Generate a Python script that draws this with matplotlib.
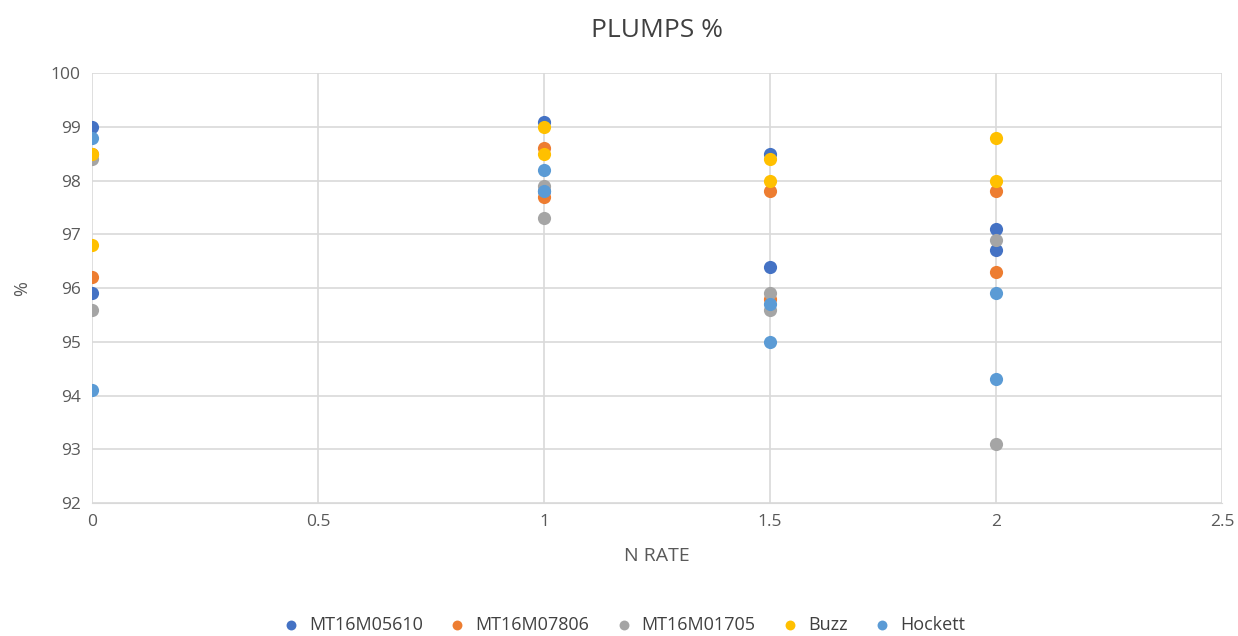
import matplotlib.pyplot as plt
import numpy as np

plt.rcParams['font.family'] = ['Open Sans', 'DejaVu Sans']

# N rate values and PLUMPS % per variety
n_rate = [0, 0, 1, 1, 1.5, 1.5, 2, 2]
mt05610 = [99.0, 95.9, 99.1, 97.8, 98.5, 96.4, 97.1, 96.7]
mt07806 = [98.5, 96.2, 98.6, 97.7, 97.8, 95.8, 97.8, 96.3]
mt01705 = [98.4, 95.6, 97.9, 97.3, 95.9, 95.6, 96.9, 93.1]
buzz = [98.5, 96.8, 99.0, 98.5, 98.4, 98.0, 98.8, 98.0]
hockett = [98.8, 94.1, 98.2, 97.8, 95.7, 95.0, 95.9, 94.3]

series = [
    ('MT16M05610', mt05610, '#4472C4'),
    ('MT16M07806', mt07806, '#ED7D31'),
    ('MT16M01705', mt01705, '#A5A5A5'),
    ('Buzz', buzz, '#FFC000'),
    ('Hockett', hockett, '#5B9BD5'),
]

fig = plt.figure(figsize=(12.38, 6.36), dpi=100)
ax = fig.add_axes([0.0743, 0.209, 0.9127, 0.676])

for name, vals, col in series:
    ax.scatter(n_rate, vals, s=90, color=col, label=name, zorder=3, linewidths=0)

ax.set_xlim(0, 2.5)
ax.set_ylim(92, 100)
ax.set_xticks(np.arange(0, 2.51, 0.5))
ax.set_xticklabels(['0', '0.5', '1', '1.5', '2', '2.5'])
ax.set_yticks(np.arange(92, 101, 1))
ax.grid(True, color='#D9D9D9', linewidth=1.2, zorder=0)
ax.set_axisbelow(True)
for s in ['top', 'right', 'left']:
    ax.spines[s].set_visible(False)
ax.spines['bottom'].set_color('#D9D9D9')
ax.tick_params(length=0, labelsize=12.5, colors='#595959', pad=8)

ax.set_title('PLUMPS %', fontsize=19, color='#404040', pad=26)
ax.set_xlabel('N RATE', fontsize=14, color='#595959', labelpad=12)
ax.set_ylabel('%', fontsize=13, color='#595959', labelpad=14)

fig.legend(loc='lower center', ncol=5, frameon=False, fontsize=13,
           bbox_to_anchor=(0.5, -0.022), handletextpad=0.0, columnspacing=0.9,
           markerscale=0.75, labelcolor='#404040')

fig.savefig('out.png', dpi=100)
